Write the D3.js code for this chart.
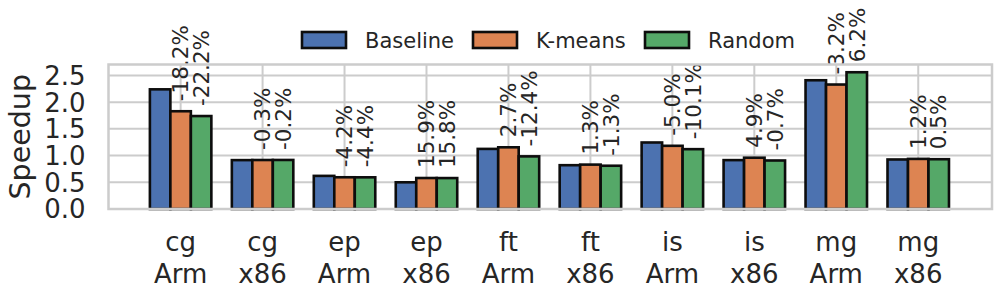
<!DOCTYPE html>
<html>
<head>
<meta charset="utf-8">
<script src="https://cdn.jsdelivr.net/npm/d3@7"></script>
<style>
  body { margin: 0; background: #fff; }
  text { font-family: "DejaVu Sans", sans-serif; fill: #262626; }
</style>
</head>
<body>
<svg id="chart" width="997" height="294"></svg>
<script>
// benchmarks / platforms
const benchmarks = ["cg", "cg", "ep", "ep", "ft", "ft", "is", "is", "mg", "mg"];
const platforms = ["Arm", "x86", "Arm", "x86", "Arm", "x86", "Arm", "x86", "Arm", "x86"];
const seriesNames = ["Baseline", "K-means", "Random"];
const colors = ["#4C72B0", "#DD8452", "#55A868"];

// speedup values
const baseline = [2.24, 0.915, 0.62, 0.50, 1.125, 0.82, 1.245, 0.915, 2.41, 0.927];
const kmeans   = [1.83, 0.917, 0.594, 0.58, 1.155, 0.831, 1.183, 0.96, 2.33, 0.938];
const random   = [1.74, 0.918, 0.593, 0.579, 0.985, 0.81, 1.12, 0.908, 2.56, 0.932];

// percentage labels (relative to baseline)
const kmeansLabels = ["-18.2%", "-0.3%", "-4.2%", "15.9%", "2.7%", "1.3%", "-5.0%", "4.9%", "-3.2%", "1.2%"];
const randomLabels = ["-22.2%", "-0.2%", "-4.4%", "15.8%", "-12.4%", "-1.3%", "-10.1%", "-0.7%", "6.2%", "0.5%"];

const yTicks = [0.0, 0.5, 1.0, 1.5, 2.0, 2.5];

const svg = d3.select("#chart");
const margin = {top: 64.5, right: 5, bottom: 85, left: 108.5};
const width = 997 - margin.left - margin.right,
      height = 294 - margin.top - margin.bottom;

const g = svg.append("g")
    .attr("transform", "translate(" + margin.left + "," + margin.top + ")");

// scales
const x = d3.scaleLinear().domain([-0.88, 9.9]).range([0, width]);
const y = d3.scaleLinear().domain([0, 2.705]).range([height, 0]);
const barW = 0.25;

// grid
g.selectAll(".hgrid").data(yTicks).enter().append("line")
    .attr("x1", 0).attr("x2", width)
    .attr("y1", d => y(d)).attr("y2", d => y(d))
    .attr("stroke", "#cccccc").attr("stroke-width", 2);
g.selectAll(".vgrid").data(benchmarks).enter().append("line")
    .attr("x1", (d, i) => x(i)).attr("x2", (d, i) => x(i))
    .attr("y1", 0).attr("y2", height)
    .attr("stroke", "#cccccc").attr("stroke-width", 2);

// bars
const series = [baseline, kmeans, random];
series.forEach(function(vals, s) {
    g.selectAll(".bar" + s).data(vals).enter().append("rect")
        .attr("x", (d, i) => x(i + (s - 1) * barW - barW / 2))
        .attr("width", x(barW) - x(0))
        .attr("y", d => y(d))
        .attr("height", d => y(0) - y(d))
        .attr("fill", colors[s])
        .attr("stroke", "#0d0d0d")
        .attr("stroke-width", 2.6);
});

// percentage labels
[[kmeans, kmeansLabels, 0], [random, randomLabels, 1]].forEach(function(p) {
    const vals = p[0], labels = p[1], off = p[2] * barW;
    g.selectAll(".lab" + p[2]).data(labels).enter().append("text")
        .attr("transform", (d, i) => "translate(" + x(i + off) + "," + (y(vals[i]) - 10) + ") rotate(-90)")
        .attr("dy", "0.36em")
        .attr("text-anchor", "start")
        .style("font-size", "21.5px")
        .text(d => d);
});

// frame
g.append("rect")
    .attr("width", width).attr("height", height)
    .attr("fill", "none").attr("stroke", "#cccccc").attr("stroke-width", 2.5);

// y axis labels
g.selectAll(".ytick").data(yTicks).enter().append("text")
    .attr("x", -23).attr("y", d => y(d))
    .attr("dy", "0.36em")
    .attr("text-anchor", "end")
    .style("font-size", "26px")
    .text(d => d.toFixed(1));

svg.append("text")
    .attr("transform", "translate(30," + (margin.top + height / 2) + ") rotate(-90)")
    .attr("text-anchor", "middle")
    .style("font-size", "28.5px")
    .text("Speedup");

// x axis labels (two lines)
const xl = g.selectAll(".xtick").data(benchmarks).enter().append("text")
    .attr("text-anchor", "middle")
    .style("font-size", "26px");
xl.append("tspan").attr("x", (d, i) => x(i)).attr("y", height + 42).text(d => d);
xl.append("tspan").attr("x", (d, i) => x(i)).attr("y", height + 74).text((d, i) => platforms[i]);

// legend
const legendX = [302, 473, 645];
const leg = svg.selectAll(".leg").data(seriesNames).enter().append("g")
    .attr("transform", (d, i) => "translate(" + legendX[i] + ",32)");
leg.append("rect")
    .attr("width", 44).attr("height", 16)
    .attr("fill", (d, i) => colors[i])
    .attr("stroke", "#0d0d0d").attr("stroke-width", 2.6);
leg.append("text")
    .attr("x", 63).attr("y", 16)
    .style("font-size", "21px")
    .text(d => d);
</script>
</body>
</html>
